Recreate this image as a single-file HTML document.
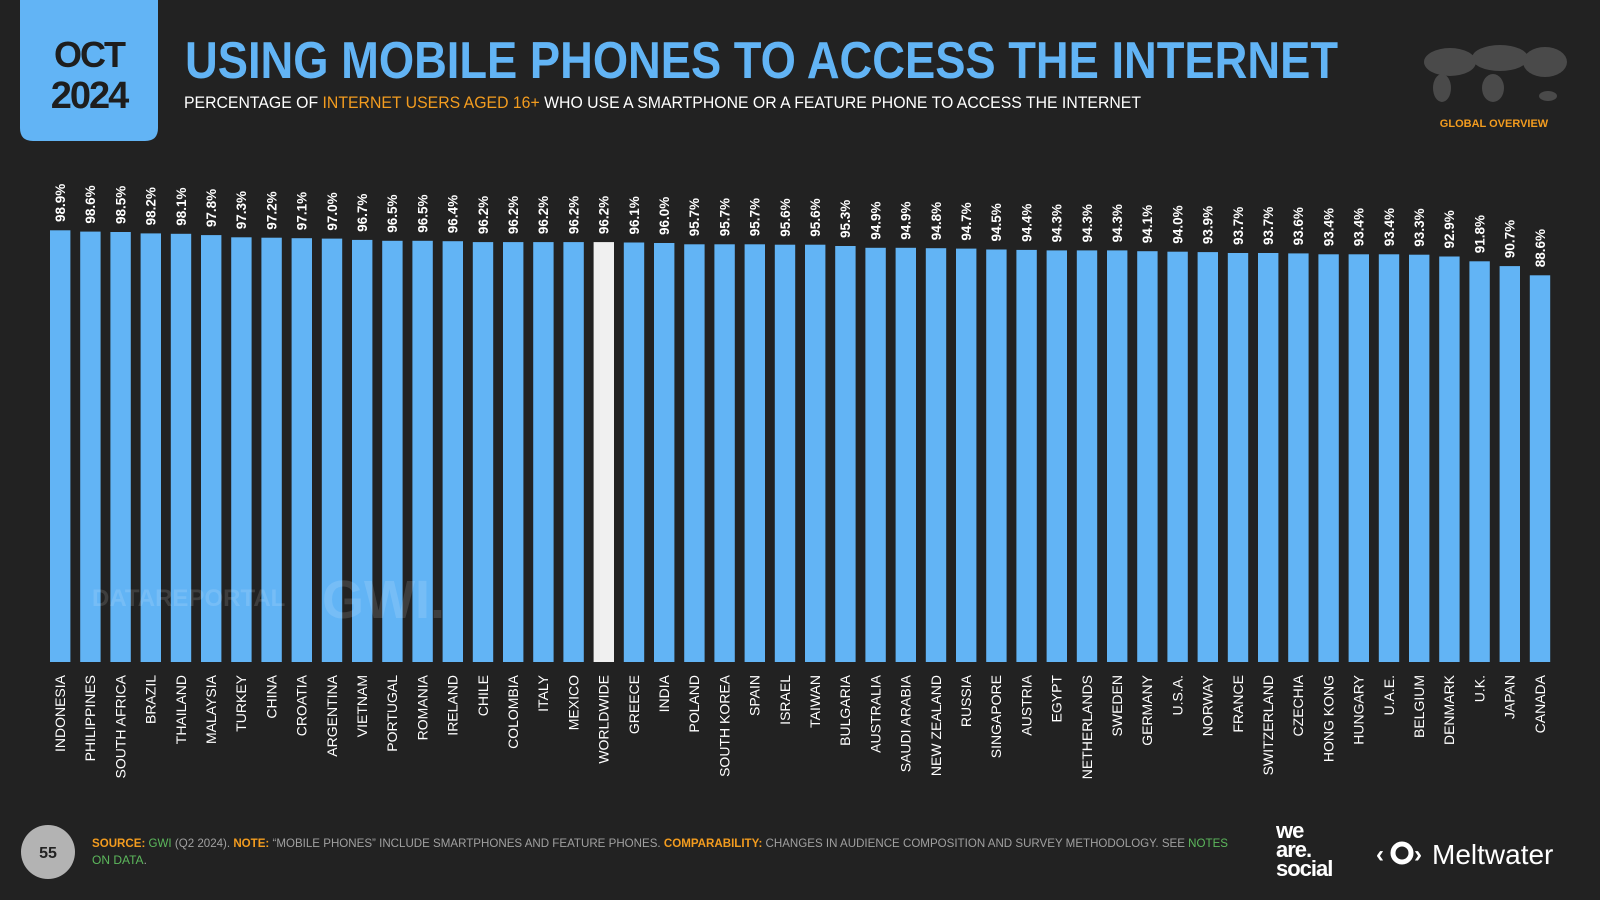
<!DOCTYPE html>
<html><head><meta charset="utf-8"><style>
html,body{margin:0;padding:0;background:#222222;}
svg{display:block}
text{font-family:"Liberation Sans",sans-serif}
.b rect{fill:#62b4f5;width:20.4px}
.b rect.w{fill:#f0f0f0}
.v{font-size:13.5px;font-weight:bold;fill:#fff}
.l{font-size:14px;fill:#fff;text-anchor:end}
</style></head><body>
<svg width="1600" height="900" viewBox="0 0 1600 900" xmlns="http://www.w3.org/2000/svg">
<rect width="1600" height="900" fill="#222222"/>
<path d="M20 0 H158 V128 Q158 141 145 141 H33 Q20 141 20 128 Z" fill="#62b4f5"/>
<text x="89" y="67" font-size="36" font-weight="bold" fill="#1e1e1e" text-anchor="middle" letter-spacing="-2">OCT</text>
<text x="89" y="108" font-size="38" font-weight="bold" fill="#1e1e1e" text-anchor="middle" letter-spacing="-2">2024</text>
<text x="185" y="78" font-size="52" font-weight="bold" fill="#62b4f5" textLength="1153" lengthAdjust="spacingAndGlyphs">USING MOBILE PHONES TO ACCESS THE INTERNET</text>
<text x="184" y="108" font-size="16.5" fill="#ffffff" textLength="957" lengthAdjust="spacingAndGlyphs">PERCENTAGE OF <tspan fill="#f39c1f">INTERNET USERS AGED 16+</tspan> WHO USE A SMARTPHONE OR A FEATURE PHONE TO ACCESS THE INTERNET</text>
<g fill="#4a4a4a">
<ellipse cx="1450" cy="62" rx="26" ry="14"/><ellipse cx="1442" cy="88" rx="9" ry="14"/>
<ellipse cx="1500" cy="58" rx="28" ry="13"/><ellipse cx="1493" cy="88" rx="11" ry="14"/>
<ellipse cx="1545" cy="62" rx="22" ry="15"/><ellipse cx="1548" cy="96" rx="9" ry="5"/>
</g>
<text x="1494" y="127" font-size="11" font-weight="bold" fill="#f39c1f" text-anchor="middle">GLOBAL OVERVIEW</text>
<g class="b">
<g transform="translate(50,0)"><rect y="230.3" height="431.7"/><text class="v" transform="translate(15,222) rotate(-90)">98.9%</text><text class="l" transform="translate(15,675) rotate(-90)">INDONESIA</text></g>
<g transform="translate(80.2,0)"><rect y="231.6" height="430.4"/><text class="v" transform="translate(15,223.6) rotate(-90)">98.6%</text><text class="l" transform="translate(15,675) rotate(-90)">PHILIPPINES</text></g>
<g transform="translate(110.4,0)"><rect y="232" height="430"/><text class="v" transform="translate(15,224) rotate(-90)">98.5%</text><text class="l" transform="translate(15,675) rotate(-90)">SOUTH AFRICA</text></g>
<g transform="translate(140.6,0)"><rect y="233.4" height="428.6"/><text class="v" transform="translate(15,225.4) rotate(-90)">98.2%</text><text class="l" transform="translate(15,675) rotate(-90)">BRAZIL</text></g>
<g transform="translate(170.8,0)"><rect y="233.8" height="428.2"/><text class="v" transform="translate(15,225.8) rotate(-90)">98.1%</text><text class="l" transform="translate(15,675) rotate(-90)">THAILAND</text></g>
<g transform="translate(201,0)"><rect y="235.1" height="426.9"/><text class="v" transform="translate(15,227.1) rotate(-90)">97.8%</text><text class="l" transform="translate(15,675) rotate(-90)">MALAYSIA</text></g>
<g transform="translate(231.2,0)"><rect y="237.3" height="424.7"/><text class="v" transform="translate(15,229.3) rotate(-90)">97.3%</text><text class="l" transform="translate(15,675) rotate(-90)">TURKEY</text></g>
<g transform="translate(261.4,0)"><rect y="237.7" height="424.3"/><text class="v" transform="translate(15,229.7) rotate(-90)">97.2%</text><text class="l" transform="translate(15,675) rotate(-90)">CHINA</text></g>
<g transform="translate(291.6,0)"><rect y="238.2" height="423.8"/><text class="v" transform="translate(15,230.2) rotate(-90)">97.1%</text><text class="l" transform="translate(15,675) rotate(-90)">CROATIA</text></g>
<g transform="translate(321.8,0)"><rect y="238.6" height="423.4"/><text class="v" transform="translate(15,230.6) rotate(-90)">97.0%</text><text class="l" transform="translate(15,675) rotate(-90)">ARGENTINA</text></g>
<g transform="translate(352,0)"><rect y="239.9" height="422.1"/><text class="v" transform="translate(15,231.9) rotate(-90)">96.7%</text><text class="l" transform="translate(15,675) rotate(-90)">VIETNAM</text></g>
<g transform="translate(382.2,0)"><rect y="240.8" height="421.2"/><text class="v" transform="translate(15,232.8) rotate(-90)">96.5%</text><text class="l" transform="translate(15,675) rotate(-90)">PORTUGAL</text></g>
<g transform="translate(412.4,0)"><rect y="240.8" height="421.2"/><text class="v" transform="translate(15,232.8) rotate(-90)">96.5%</text><text class="l" transform="translate(15,675) rotate(-90)">ROMANIA</text></g>
<g transform="translate(442.6,0)"><rect y="241.2" height="420.8"/><text class="v" transform="translate(15,233.2) rotate(-90)">96.4%</text><text class="l" transform="translate(15,675) rotate(-90)">IRELAND</text></g>
<g transform="translate(472.8,0)"><rect y="242.1" height="419.9"/><text class="v" transform="translate(15,234.1) rotate(-90)">96.2%</text><text class="l" transform="translate(15,675) rotate(-90)">CHILE</text></g>
<g transform="translate(503,0)"><rect y="242.1" height="419.9"/><text class="v" transform="translate(15,234.1) rotate(-90)">96.2%</text><text class="l" transform="translate(15,675) rotate(-90)">COLOMBIA</text></g>
<g transform="translate(533.2,0)"><rect y="242.1" height="419.9"/><text class="v" transform="translate(15,234.1) rotate(-90)">96.2%</text><text class="l" transform="translate(15,675) rotate(-90)">ITALY</text></g>
<g transform="translate(563.4,0)"><rect y="242.1" height="419.9"/><text class="v" transform="translate(15,234.1) rotate(-90)">96.2%</text><text class="l" transform="translate(15,675) rotate(-90)">MEXICO</text></g>
<g transform="translate(593.6,0)"><rect class="w" y="242.1" height="419.9"/><text class="v" transform="translate(15,234.1) rotate(-90)">96.2%</text><text class="l" transform="translate(15,675) rotate(-90)">WORLDWIDE</text></g>
<g transform="translate(623.8,0)"><rect y="242.5" height="419.5"/><text class="v" transform="translate(15,234.5) rotate(-90)">96.1%</text><text class="l" transform="translate(15,675) rotate(-90)">GREECE</text></g>
<g transform="translate(654,0)"><rect y="243" height="419"/><text class="v" transform="translate(15,235) rotate(-90)">96.0%</text><text class="l" transform="translate(15,675) rotate(-90)">INDIA</text></g>
<g transform="translate(684.2,0)"><rect y="244.3" height="417.7"/><text class="v" transform="translate(15,236.3) rotate(-90)">95.7%</text><text class="l" transform="translate(15,675) rotate(-90)">POLAND</text></g>
<g transform="translate(714.4,0)"><rect y="244.3" height="417.7"/><text class="v" transform="translate(15,236.3) rotate(-90)">95.7%</text><text class="l" transform="translate(15,675) rotate(-90)">SOUTH KOREA</text></g>
<g transform="translate(744.6,0)"><rect y="244.3" height="417.7"/><text class="v" transform="translate(15,236.3) rotate(-90)">95.7%</text><text class="l" transform="translate(15,675) rotate(-90)">SPAIN</text></g>
<g transform="translate(774.8,0)"><rect y="244.7" height="417.3"/><text class="v" transform="translate(15,236.7) rotate(-90)">95.6%</text><text class="l" transform="translate(15,675) rotate(-90)">ISRAEL</text></g>
<g transform="translate(805,0)"><rect y="244.7" height="417.3"/><text class="v" transform="translate(15,236.7) rotate(-90)">95.6%</text><text class="l" transform="translate(15,675) rotate(-90)">TAIWAN</text></g>
<g transform="translate(835.2,0)"><rect y="246" height="416"/><text class="v" transform="translate(15,238) rotate(-90)">95.3%</text><text class="l" transform="translate(15,675) rotate(-90)">BULGARIA</text></g>
<g transform="translate(865.4,0)"><rect y="247.8" height="414.2"/><text class="v" transform="translate(15,239.8) rotate(-90)">94.9%</text><text class="l" transform="translate(15,675) rotate(-90)">AUSTRALIA</text></g>
<g transform="translate(895.6,0)"><rect y="247.8" height="414.2"/><text class="v" transform="translate(15,239.8) rotate(-90)">94.9%</text><text class="l" transform="translate(15,675) rotate(-90)">SAUDI ARABIA</text></g>
<g transform="translate(925.8,0)"><rect y="248.2" height="413.8"/><text class="v" transform="translate(15,240.2) rotate(-90)">94.8%</text><text class="l" transform="translate(15,675) rotate(-90)">NEW ZEALAND</text></g>
<g transform="translate(956,0)"><rect y="248.6" height="413.4"/><text class="v" transform="translate(15,240.6) rotate(-90)">94.7%</text><text class="l" transform="translate(15,675) rotate(-90)">RUSSIA</text></g>
<g transform="translate(986.2,0)"><rect y="249.5" height="412.5"/><text class="v" transform="translate(15,241.5) rotate(-90)">94.5%</text><text class="l" transform="translate(15,675) rotate(-90)">SINGAPORE</text></g>
<g transform="translate(1016.4,0)"><rect y="249.9" height="412.1"/><text class="v" transform="translate(15,241.9) rotate(-90)">94.4%</text><text class="l" transform="translate(15,675) rotate(-90)">AUSTRIA</text></g>
<g transform="translate(1046.6,0)"><rect y="250.4" height="411.6"/><text class="v" transform="translate(15,242.4) rotate(-90)">94.3%</text><text class="l" transform="translate(15,675) rotate(-90)">EGYPT</text></g>
<g transform="translate(1076.8,0)"><rect y="250.4" height="411.6"/><text class="v" transform="translate(15,242.4) rotate(-90)">94.3%</text><text class="l" transform="translate(15,675) rotate(-90)">NETHERLANDS</text></g>
<g transform="translate(1107,0)"><rect y="250.4" height="411.6"/><text class="v" transform="translate(15,242.4) rotate(-90)">94.3%</text><text class="l" transform="translate(15,675) rotate(-90)">SWEDEN</text></g>
<g transform="translate(1137.2,0)"><rect y="251.2" height="410.8"/><text class="v" transform="translate(15,243.2) rotate(-90)">94.1%</text><text class="l" transform="translate(15,675) rotate(-90)">GERMANY</text></g>
<g transform="translate(1167.4,0)"><rect y="251.7" height="410.3"/><text class="v" transform="translate(15,243.7) rotate(-90)">94.0%</text><text class="l" transform="translate(15,675) rotate(-90)">U.S.A.</text></g>
<g transform="translate(1197.6,0)"><rect y="252.1" height="409.9"/><text class="v" transform="translate(15,244.1) rotate(-90)">93.9%</text><text class="l" transform="translate(15,675) rotate(-90)">NORWAY</text></g>
<g transform="translate(1227.8,0)"><rect y="253" height="409"/><text class="v" transform="translate(15,245) rotate(-90)">93.7%</text><text class="l" transform="translate(15,675) rotate(-90)">FRANCE</text></g>
<g transform="translate(1258,0)"><rect y="253" height="409"/><text class="v" transform="translate(15,245) rotate(-90)">93.7%</text><text class="l" transform="translate(15,675) rotate(-90)">SWITZERLAND</text></g>
<g transform="translate(1288.2,0)"><rect y="253.4" height="408.6"/><text class="v" transform="translate(15,245.4) rotate(-90)">93.6%</text><text class="l" transform="translate(15,675) rotate(-90)">CZECHIA</text></g>
<g transform="translate(1318.4,0)"><rect y="254.3" height="407.7"/><text class="v" transform="translate(15,246.3) rotate(-90)">93.4%</text><text class="l" transform="translate(15,675) rotate(-90)">HONG KONG</text></g>
<g transform="translate(1348.6,0)"><rect y="254.3" height="407.7"/><text class="v" transform="translate(15,246.3) rotate(-90)">93.4%</text><text class="l" transform="translate(15,675) rotate(-90)">HUNGARY</text></g>
<g transform="translate(1378.8,0)"><rect y="254.3" height="407.7"/><text class="v" transform="translate(15,246.3) rotate(-90)">93.4%</text><text class="l" transform="translate(15,675) rotate(-90)">U.A.E.</text></g>
<g transform="translate(1409,0)"><rect y="254.7" height="407.3"/><text class="v" transform="translate(15,246.7) rotate(-90)">93.3%</text><text class="l" transform="translate(15,675) rotate(-90)">BELGIUM</text></g>
<g transform="translate(1439.2,0)"><rect y="256.5" height="405.5"/><text class="v" transform="translate(15,248.5) rotate(-90)">92.9%</text><text class="l" transform="translate(15,675) rotate(-90)">DENMARK</text></g>
<g transform="translate(1469.4,0)"><rect y="261.3" height="400.7"/><text class="v" transform="translate(15,253.3) rotate(-90)">91.8%</text><text class="l" transform="translate(15,675) rotate(-90)">U.K.</text></g>
<g transform="translate(1499.6,0)"><rect y="266.1" height="395.9"/><text class="v" transform="translate(15,258.1) rotate(-90)">90.7%</text><text class="l" transform="translate(15,675) rotate(-90)">JAPAN</text></g>
<g transform="translate(1529.8,0)"><rect y="275.3" height="386.7"/><text class="v" transform="translate(15,267.3) rotate(-90)">88.6%</text><text class="l" transform="translate(15,675) rotate(-90)">CANADA</text></g>
</g>
<text x="92" y="606" font-size="24" font-weight="bold" fill="#ffffff" fill-opacity="0.13">DATAREPORTAL</text>
<text x="322" y="618" font-size="54" font-weight="bold" fill="#ffffff" fill-opacity="0.13">GWI.</text>
<circle cx="48" cy="852" r="27" fill="#b3b3b3"/>
<text x="48" y="858" font-size="16" fill="#222" text-anchor="middle" font-weight="bold">55</text>
<text x="92" y="847" font-size="12" fill="#a0a0a0" textLength="1136" lengthAdjust="spacingAndGlyphs"><tspan fill="#f39c1f" font-weight="bold">SOURCE:</tspan> <tspan fill="#5cb85c">GWI</tspan> (Q2 2024). <tspan fill="#f39c1f" font-weight="bold">NOTE:</tspan> “MOBILE PHONES” INCLUDE SMARTPHONES AND FEATURE PHONES. <tspan fill="#f39c1f" font-weight="bold">COMPARABILITY:</tspan> CHANGES IN AUDIENCE COMPOSITION AND SURVEY METHODOLOGY. SEE <tspan fill="#5cb85c">NOTES</tspan></text>
<text x="92" y="864" font-size="12" fill="#5cb85c">ON DATA<tspan fill="#a0a0a0">.</tspan></text>
<text x="1276" y="838" font-size="22" font-weight="bold" fill="#fff" letter-spacing="-1">we</text>
<text x="1276" y="857" font-size="22" font-weight="bold" fill="#fff" letter-spacing="-1">are.</text>
<text x="1276" y="876" font-size="22" font-weight="bold" fill="#fff" letter-spacing="-1">social</text>
<text x="1376" y="862" font-size="24" font-weight="bold" fill="#fff">‹</text>
<circle cx="1402" cy="853" r="9" fill="none" stroke="#fff" stroke-width="5"/>
<text x="1414" y="862" font-size="24" font-weight="bold" fill="#fff">›</text>
<text x="1432" y="864" font-size="28" fill="#fff">Meltwater</text>
</svg>
</body></html>
